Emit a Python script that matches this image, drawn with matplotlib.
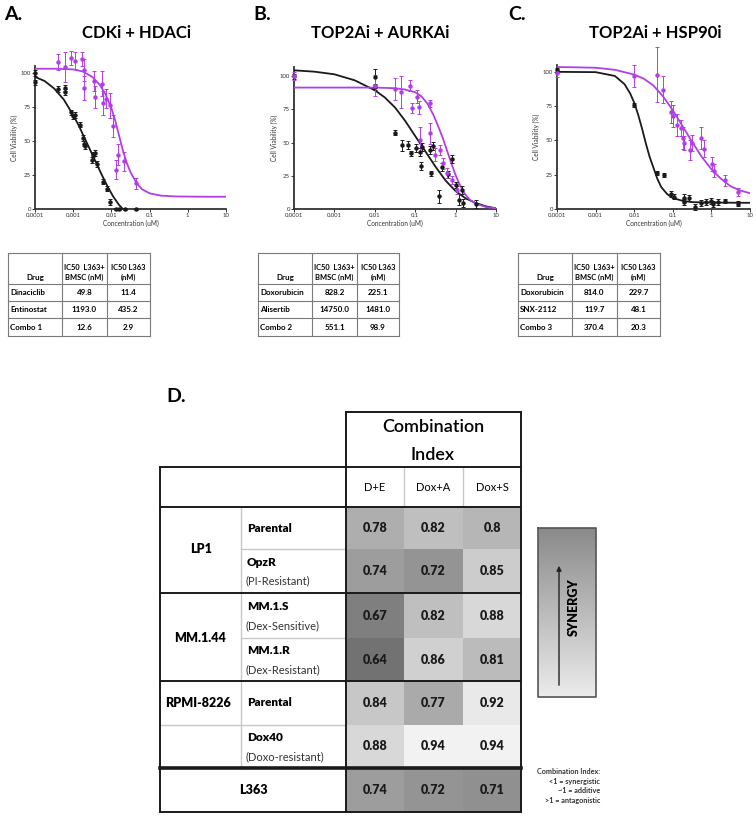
import numpy as np
import matplotlib
matplotlib.use('Agg')
import matplotlib.pyplot as plt
from matplotlib.colors import LinearSegmentedColormap, Normalize

plt.rcParams['font.family'] = ['Lato', 'DejaVu Sans']

MAG = '#b23ee8'
BLK = '#1a1a1a'

# ---------------- dose-response data (uM, % viability) ----------------
xticks = [1e-4, 1e-3, 1e-2, 0.1, 1, 10]
xticklabels = ['0.0001', '0.001', '0.01', '0.1', '1', '10']
yticks = [0, 25, 50, 75, 100]

# fitted curves (log10 conc, viability)
a_blk_curve_logc = [-4.0, -3.75, -3.5, -3.25, -3.0, -2.85, -2.7, -2.55, -2.4, -2.25, -2.1, -1.95, -1.8, -1.7]
a_blk_curve_v = [97, 94, 88.5, 80.5, 69, 61, 52, 43, 34, 25, 16.5, 9, 3, 0]
a_mag_curve_logc = [-4.0, -3.5, -3.0, -2.75, -2.5, -2.3, -2.15, -2.0, -1.9, -1.8, -1.7, -1.6, -1.5, -1.35, -1.2, -1.0, -0.7, -0.3, 0.5, 1.0]
a_mag_curve_v = [103, 103, 102.5, 101, 97, 91, 84, 74, 65, 54, 43, 34, 27, 19.5, 14.5, 11.5, 9.8, 9.2, 9, 9]

b_blk_curve_logc = [-4.0, -3.5, -3.0, -2.5, -2.0, -1.75, -1.5, -1.25, -1.0, -0.75, -0.5, -0.25, 0.0, 0.25, 0.5, 0.75, 1.0]
b_blk_curve_v = [104.5, 103.5, 101.5, 97, 89.5, 84, 76.5, 66.5, 55, 43.5, 32, 21.5, 13.5, 8, 4.5, 2, 0.5]
b_mag_curve_logc = [-4.0, -2.0, -1.5, -1.25, -1.0, -0.85, -0.7, -0.55, -0.4, -0.3, -0.2, -0.1, 0.0, 0.1, 0.2, 0.35, 0.5, 0.75, 1.0]
b_mag_curve_v = [91.5, 91.5, 91, 90, 88, 85, 79.5, 71, 60, 52, 43, 34, 25.5, 18.5, 12.5, 7, 4, 1.5, 0.5]

c_blk_curve_logc = [-4.0, -3.0, -2.5, -2.25, -2.1, -2.0, -1.9, -1.8, -1.7, -1.6, -1.5, -1.4, -1.3, -1.15, -1.0, -0.75, -0.5, 0.0, 1.0]
c_blk_curve_v = [100, 99.8, 97, 91, 84, 77.5, 69, 59, 48, 38, 30, 22, 16, 11, 8, 6, 5, 4.7, 4.5]
c_mag_curve_logc = [-4.0, -3.5, -3.0, -2.5, -2.0, -1.75, -1.5, -1.25, -1.0, -0.75, -0.5, -0.25, 0.0, 0.25, 0.5, 0.75, 1.0]
c_mag_curve_v = [103.5, 103.3, 103, 101.5, 98, 95, 90, 82, 72, 60.5, 49, 38, 29, 22, 16.5, 13.5, 11.5]

# measured points
a_mag_c = [0.0004, 0.0006, 0.0009, 0.0011, 0.0017, 0.0019, 0.0019, 0.0034, 0.0037, 0.0056, 0.0062, 0.0071, 0.0091, 0.011, 0.0135, 0.0148, 0.022, 0.045]
a_mag_v = [108, 104, 111, 109, 110, 102, 89, 94, 82, 92, 78, 81, 76, 61, 29, 40, 35, 19]
a_mag_e = [6, 11, 5, 6, 5, 8, 9, 7, 8, 9, 9, 7, 9, 8, 7, 8, 7, 4]
a_blk_c = [0.0001, 0.0001, 0.0004, 0.0006, 0.0006, 0.0009, 0.001, 0.0011, 0.0015, 0.0018, 0.0019, 0.002, 0.0031, 0.0033, 0.0037, 0.0042, 0.0062, 0.0076, 0.0091, 0.013, 0.016, 0.023, 0.045]
a_blk_v = [100, 93, 88, 89, 86, 71, 68, 69, 62, 52, 48, 46, 36, 40, 41, 33, 20, 15, 5, 0, 0, 0, 0]
a_blk_e = [2, 2, 2, 2, 2, 2, 2, 2, 2, 2, 2, 2, 2, 2, 2, 2, 2, 2, 2, 1, 1, 1, 1]

b_mag_c = [0.0001, 0.01, 0.032, 0.045, 0.075, 0.083, 0.11, 0.125, 0.135, 0.23, 0.23, 0.31, 0.41, 0.49, 0.63, 0.81, 1.1]
b_mag_v = [100, 93, 90.5, 88, 93, 76, 84.5, 76.5, 52, 79.5, 57, 41, 44.5, 34.5, 27, 22, 14.5]
b_mag_e = [3, 8, 8, 12, 4, 4, 5, 5, 10, 3, 8, 5, 4, 4, 4, 3, 3]
b_blk_c = [0.0001, 0.01, 0.01, 0.032, 0.046, 0.066, 0.079, 0.105, 0.13, 0.14, 0.145, 0.23, 0.245, 0.28, 0.39, 0.45, 0.66, 0.81, 1.0, 1.23, 1.45, 1.5, 3.2]
b_blk_v = [100, 99.5, 92, 57.5, 48, 48, 42, 46, 43, 32.5, 47, 44.5, 27, 47.5, 9.5, 32, 26, 38, 18, 7, 14.5, 4.5, 4]
b_blk_e = [2, 6, 2, 2, 4, 3, 2, 3, 3, 3, 3, 3, 2, 3, 5, 3, 3, 3, 2, 4, 3, 3, 3]

c_mag_c = [0.0001, 0.01, 0.038, 0.056, 0.091, 0.1, 0.13, 0.166, 0.18, 0.2, 0.275, 0.32, 0.55, 0.66, 1.02, 1.15, 2.2, 5.0]
c_mag_v = [99, 97, 98, 87, 71, 67.5, 61, 59, 51.5, 48, 43, 48, 51.5, 44, 33, 28, 21, 12.5]
c_mag_e = [3, 8, 20, 10, 8, 8, 8, 6, 8, 5, 7, 6, 8, 6, 5, 5, 4, 3]
c_blk_c = [0.0001, 0.01, 0.038, 0.06, 0.091, 0.11, 0.19, 0.2, 0.27, 0.37, 0.55, 0.74, 1.0, 1.12, 1.48, 2.2, 5.0]
c_blk_v = [101, 76, 26, 25, 11, 9, 8, 5, 8, 1.5, 4.5, 5, 6, 3.5, 5, 6, 4]
c_blk_e = [1.5, 1.5, 1.5, 1.5, 2, 2, 3, 2, 2, 2, 2, 2, 2, 2, 2, 1.5, 1.5]

# ---------------- IC50 tables ----------------
ic50_header = ['Drug', 'IC50  L363+\nBMSC (nM)', 'IC50 L363\n(nM)']
a_drugs = ['Dinaciclib', 'Entinostat', 'Combo 1']
a_ic50_bmsc = [49.8, 1193.0, 12.6]
a_ic50_l363 = [11.4, 435.2, 2.9]
b_drugs = ['Doxorubicin', 'Alisertib', 'Combo 2']
b_ic50_bmsc = [828.2, 14750.0, 551.1]
b_ic50_l363 = [225.1, 1481.0, 98.9]
c_drugs = ['Doxorubicin', 'SNX-2112', 'Combo 3']
c_ic50_bmsc = [814.0, 119.7, 370.4]
c_ic50_l363 = [229.7, 48.1, 20.3]

# ---------------- combination index table ----------------
ci_combos = ['D+E', 'Dox+A', 'Dox+S']
ci_lines = ['Parental', 'OpzR', 'MM.1.S', 'MM.1.R', 'Parental', 'Dox40', 'L363']
ci_notes = ['', '(PI-Resistant)', '(Dex-Sensitive)', '(Dex-Resistant)', '', '(Doxo-resistant)', '']
ci_values = [
    [0.78, 0.82, 0.80],
    [0.74, 0.72, 0.85],
    [0.67, 0.82, 0.88],
    [0.64, 0.86, 0.81],
    [0.84, 0.77, 0.92],
    [0.88, 0.94, 0.94],
    [0.74, 0.72, 0.71],
]

W, H = 756, 817
fig = plt.figure(figsize=(W / 100, H / 100), dpi=100)

# overlay in pixel coordinates for tables and labels
ov = fig.add_axes([0, 0, 1, 1])
ov.set_xlim(0, W)
ov.set_ylim(H, 0)
ov.axis('off')


def px_axes(x0, y0, x1, y1):
    return fig.add_axes([x0 / W, 1 - y1 / H, (x1 - x0) / W, (y1 - y0) / H])


def dose_panel(box, ymax, blk_curve, mag_curve, blk_pts, mag_pts):
    ax = px_axes(*box)
    ax.patch.set_alpha(0)
    ax.set_xscale('log')
    ax.set_xlim(1e-4, 10)
    ax.set_ylim(0, ymax)
    ax.plot(10 ** np.array(blk_curve[0]), blk_curve[1], color=BLK, lw=1.3, zorder=3)
    ax.plot(10 ** np.array(mag_curve[0]), mag_curve[1], color=MAG, lw=1.3, zorder=3)
    for (c, v, e), col in [(blk_pts, BLK), (mag_pts, MAG)]:
        cont = ax.errorbar(c, v, yerr=e, fmt='o', ms=2.2, color=col, ecolor=col,
                           elinewidth=0.7, capsize=1.3, capthick=0.7, zorder=4)
        for art in cont.get_children():
            art.set_clip_on(False)
    ax.set_xticks(xticks)
    ax.set_xticklabels(xticklabels)
    ax.minorticks_off()
    ax.set_yticks(yticks)
    ax.tick_params(labelsize=4.3, length=2, width=0.7, pad=1, colors='#333333')
    for s in ['top', 'right']:
        ax.spines[s].set_visible(False)
    for s in ['left', 'bottom']:
        ax.spines[s].set_linewidth(1.3)
        ax.spines[s].set_color('#333333')
    ax.set_xlabel('Concentration (uM)', fontsize=4.7, labelpad=1.5, color='#333333')
    ax.set_ylabel('Cell Viability (%)', fontsize=4.7, labelpad=1.5, color='#333333')
    return ax


dose_panel((35, 66, 226, 209), 105,
           (a_blk_curve_logc, a_blk_curve_v), (a_mag_curve_logc, a_mag_curve_v),
           (a_blk_c, a_blk_v, a_blk_e), (a_mag_c, a_mag_v, a_mag_e))
dose_panel((294, 67, 496, 209), 107,
           (b_blk_curve_logc, b_blk_curve_v), (b_mag_curve_logc, b_mag_curve_v),
           (b_blk_c, b_blk_v, b_blk_e), (b_mag_c, b_mag_v, b_mag_e))
dose_panel((557, 65, 750, 209), 105,
           (c_blk_curve_logc, c_blk_curve_v), (c_mag_curve_logc, c_mag_curve_v),
           (c_blk_c, c_blk_v, c_blk_e), (c_mag_c, c_mag_v, c_mag_e))

# panel letters and titles
for x, lab in [(4, 'A.'), (253, 'B.'), (508, 'C.')]:
    ov.text(x, 14, lab, fontsize=14, fontweight='bold', ha='left', va='center')
for x, t in [(136, 'CDKi + HDACi'), (380, 'TOP2Ai + AURKAi'), (655, 'TOP2Ai + HSP90i')]:
    ov.text(x, 33, t, fontsize=12, fontweight='bold', ha='center', va='center')
ov.text(166, 396, 'D.', fontsize=14, fontweight='bold', ha='left', va='center')


def hline(x0, x1, y, color=BLK, lw=1.4):
    ov.plot([x0, x1], [y, y], color=color, lw=lw, solid_capstyle='projecting')


def vline(x, y0, y1, color=BLK, lw=1.4):
    ov.plot([x, x], [y0, y1], color=color, lw=lw, solid_capstyle='projecting')


def ic50_table(xe, ye, drugs, bmsc, l363):
    for x in xe:
        vline(x, ye[0], ye[-1], color='#7a7a7a', lw=0.8)
    for y in ye:
        hline(xe[0], xe[-1], y, color='#7a7a7a', lw=0.8)
    fs = 5.8
    ov.text((xe[0] + xe[1]) / 2, ye[1] - 3, ic50_header[0], fontsize=fs, fontweight='bold',
            ha='center', va='bottom')
    for k in (1, 2):
        ov.text((xe[k] + xe[k + 1]) / 2, ye[1] - 3, ic50_header[k], fontsize=5.4, fontweight='bold',
                ha='center', va='bottom', linespacing=1.5)
    for i in range(len(drugs)):
        yc = (ye[i + 1] + ye[i + 2]) / 2
        ov.text(xe[0] + 2, yc, drugs[i], fontsize=fs, fontweight='bold', ha='left', va='center')
        ov.text((xe[1] + xe[2]) / 2, yc, f'{bmsc[i]:.1f}', fontsize=fs, fontweight='bold',
                ha='center', va='center')
        ov.text((xe[2] + xe[3]) / 2, yc, f'{l363[i]:.1f}', fontsize=fs, fontweight='bold',
                ha='center', va='center')


ty = [253, 284, 301, 318, 336]
ic50_table([8, 62, 107, 150], ty, a_drugs, a_ic50_bmsc, a_ic50_l363)
ic50_table([258, 312, 357, 399], ty, b_drugs, b_ic50_bmsc, b_ic50_l363)
ic50_table([518, 572, 617, 660], ty, c_drugs, c_ic50_bmsc, c_ic50_l363)

# ---------------- panel D ----------------
col_x = [346, 404, 463, 521]
row_y = [507, 549, 593, 638, 681, 725, 768, 812]
cmap = LinearSegmentedColormap.from_list('ci', ['#6a6a6a', '#f6f6f6'])
norm = Normalize(vmin=0.62, vmax=0.95)
ov.pcolormesh(col_x, row_y, np.array(ci_values), cmap=cmap, norm=norm, shading='flat', zorder=1)

for i, row in enumerate(ci_values):
    yc = (row_y[i] + row_y[i + 1]) / 2
    for j, v in enumerate(row):
        ov.text((col_x[j] + col_x[j + 1]) / 2, yc, f'{v:g}', fontsize=9, fontweight='heavy',
                ha='center', va='center', color='#1a1a1a', zorder=5)

for j, name in enumerate(ci_combos):
    ov.text((col_x[j] + col_x[j + 1]) / 2, 487, name, fontsize=8, ha='center', va='center')
ov.text(433, 427, 'Combination', fontsize=13, fontweight='semibold', ha='center', va='center')
ov.text(433, 455, 'Index', fontsize=13, fontweight='semibold', ha='center', va='center')

# row labels
for i in range(6):
    yc = (row_y[i] + row_y[i + 1]) / 2
    if ci_notes[i]:
        ov.text(247, yc - 9, ci_lines[i], fontsize=8.5, fontweight='heavy', ha='left', va='center')
        ov.text(245, yc + 10, ci_notes[i], fontsize=8, ha='left', va='center', color='#333333')
    else:
        ov.text(247, yc, ci_lines[i], fontsize=8.5, fontweight='heavy', ha='left', va='center')
ov.text(253, (row_y[6] + row_y[7]) / 2, ci_lines[6], fontsize=9, fontweight='heavy', ha='center', va='center')
ov.text(201, row_y[1], 'LP1', fontsize=9, fontweight='heavy', ha='center', va='center')
ov.text(200, row_y[3], 'MM.1.44', fontsize=9, fontweight='heavy', ha='center', va='center')
ov.text(198, (row_y[4] + row_y[5]) / 2, 'RPMI-8226', fontsize=9, fontweight='heavy', ha='center', va='center')

# grid lines
gray = '#c8c8c8'
vline(241, row_y[0], row_y[6], color=gray, lw=1)
for x in col_x[1:3]:
    vline(x, 467, row_y[0], color=gray, lw=1)
hline(241, 346, row_y[1], color=gray, lw=1)
hline(241, 346, row_y[3], color=gray, lw=1)
hline(160, 346, row_y[5], color=gray, lw=1)
for y in [467, row_y[0], row_y[2], row_y[4], row_y[7]]:
    hline(160, 521, y)
hline(160, 521, row_y[6], lw=2.6)
vline(160, 467, 812)
vline(346, 412, 812)
vline(521, 412, 812)
hline(346, 521, 412)

# synergy gradient bar
grad = np.linspace(0, 1, 256).reshape(-1, 1)
ov.imshow(grad, cmap=LinearSegmentedColormap.from_list('bar', ['#8a8a8a', '#ececec']),
          extent=[538, 596, 697, 528], aspect='auto', zorder=2)
ov.plot([538, 596, 596, 538, 538], [528, 528, 697, 697, 528], color='#555555', lw=1.2, zorder=3)
ov.annotate('', xy=(559, 563), xytext=(559, 688),
            arrowprops=dict(arrowstyle='-|>', color='#222222', lw=1, mutation_scale=7), zorder=4)
ov.text(574, 607, 'SYNERGY', rotation=90, fontsize=9, fontweight='heavy', ha='center', va='center', zorder=4)
ov.text(600, 786, 'Combination Index:\n<1 = synergistic\n~1 = additive\n>1 = antagonistic',
        fontsize=5.2, fontweight='bold', ha='right', va='center', multialignment='right',
        linespacing=1.45, color='#333333')

ov.set_xlim(0, W)
ov.set_ylim(H, 0)
fig.savefig('out.png', dpi=100)
